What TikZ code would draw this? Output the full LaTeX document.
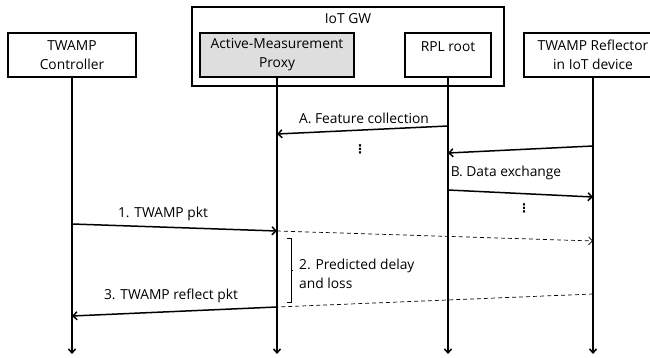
\documentclass[tikz,border=0pt]{standalone}
\usepackage{fontspec}
\setmainfont{Open Sans}
\newfontfamily\dvfont{DejaVu Sans}
\usetikzlibrary{arrows.meta}
\begin{document}
\begin{tikzpicture}[x=1pt,y=-1pt,
  every node/.style={font=\fontsize{13.8}{19}\selectfont, inner sep=0pt},
  ent/.style={draw, line width=1.5pt, align=center, minimum height=44pt},
  life/.style={line width=1.5pt, -{Straight Barb[length=4pt,width=7pt]}},
  msg/.style={line width=1.5pt, -{Straight Barb[length=4pt,width=8pt]}},
  dmsg/.style={line width=0.7pt, dash pattern=on 4pt off 3pt},
  dotsnode/.style={font=\dvfont\bfseries\fontsize{12}{12}\selectfont}]
\useasboundingbox (0,0) rectangle (650,358);
\clip (0,0) rectangle (650,358);
% boxes
\node[draw, line width=1.5pt, minimum width=312pt, minimum height=79pt] (gw) at (348,46.5) {};
\node (gwl) at (348,19) {IoT GW};
\node[ent, fill=black!13, minimum width=154pt] (proxy) at (277,55) {Active-Measurement\\Proxy};
\node[ent, minimum width=86pt] (rpl) at (448,55) {};
\node (rpll) at (448,47) {RPL root};
\node[ent, minimum width=128pt] (ctrl) at (72,55) {TWAMP\\Controller};
\node[ent, minimum width=138pt] (refl) at (593,55) {TWAMP Reflector\\in IoT device};
% lifeline ends
\coordinate (ce) at (72,354);
\coordinate (pe) at (277,354);
\coordinate (re) at (448,354);
\coordinate (fe) at (593,354);
\draw[life] (ctrl.south) -- (ce);
\draw[life] (proxy.south) -- (pe);
\draw[life] (rpl.south) -- (re);
\draw[life] (refl.south) -- (fe);
% messages
\coordinate (a1) at (448,126); \coordinate (a2) at (277,134);
\draw[msg] (a1) -- (a2);
\node (al) at (364,118) {A. Feature collection};
\node[dotsnode] (d1) at (360,149) {⋮};
\coordinate (b1) at (593,146); \coordinate (b2) at (448,153);
\draw[msg] (b1) -- (b2);
\node (bl) at (506,173) {B. Data exchange};
\coordinate (b3) at (448,190); \coordinate (b4) at (593,197);
\draw[msg] (b3) -- (b4);
\node[dotsnode] (d2) at (524,208) {⋮};
\coordinate (t1) at (72,224); \coordinate (t2) at (277,231); \coordinate (t3) at (593,241);
\draw[msg] (t1) -- (t2);
\node (tl) at (163,214) {1. TWAMP pkt};
\draw[dmsg, -{Straight Barb[length=4pt,width=8pt]}] (t2) -- (t3);
% bracket
\coordinate (k1) at (287,238); \coordinate (k2) at (287,302);
\draw[line width=0.8pt] (k1) -- ++(4,0) -- (291,302) -- (k2);
\draw[line width=0.8pt] (291,270) -- ++(2,0);
\node[anchor=west, align=left] (pl) at (299,274) {2. Predicted delay\\and loss};
% reflect
\coordinate (r1) at (593,294); \coordinate (r2) at (277,307); \coordinate (r3) at (72,316);
\draw[dmsg] (r1) -- (r2);
\draw[msg] (r2) -- (r3);
\node (rl) at (171,296) {3. TWAMP reflect pkt};
\end{tikzpicture}
\end{document}
